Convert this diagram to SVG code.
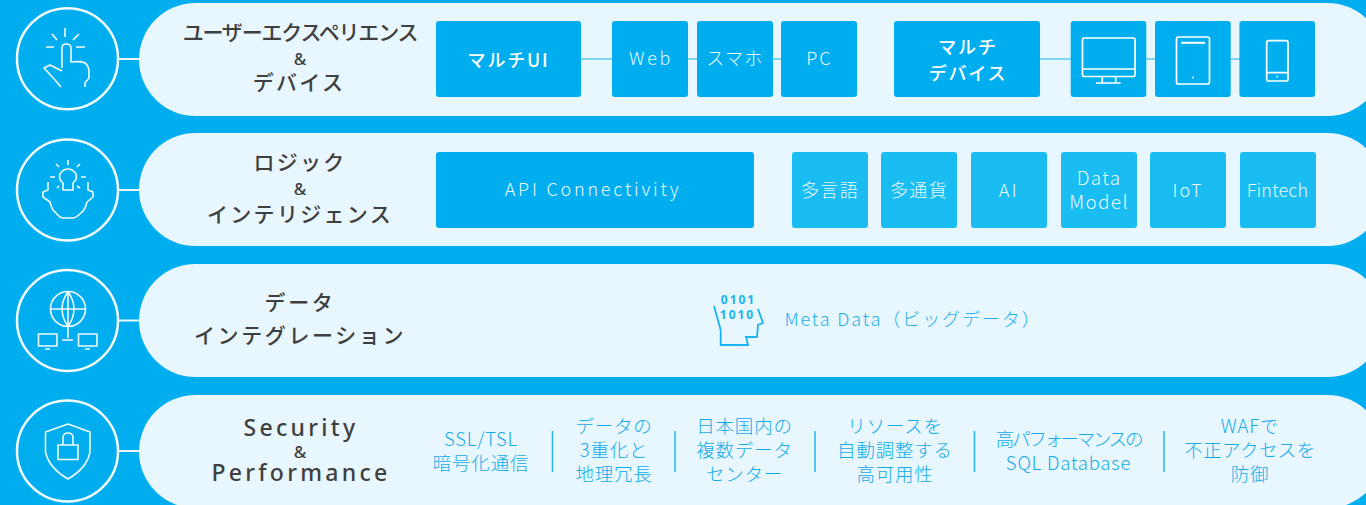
<svg xmlns="http://www.w3.org/2000/svg" width="1366" height="505" viewBox="0 0 1366 505">
<style>
text{font-family:"Noto Sans CJK JP","Noto Sans",sans-serif;text-anchor:middle}
.pill{fill:#e8f6fe}
.ring{fill:#00aeef;stroke:#f2fbff;stroke-width:2.5}
.ic{fill:none;stroke:#eef9ff;stroke-width:1.6;stroke-linecap:butt;stroke-linejoin:round}
.icb{fill:none;stroke:#ffffff;stroke-width:1.7}
.con{stroke:#e8f6fe;stroke-width:2;fill:none}
.lk{stroke:#5ccbf2;stroke-width:1.6;fill:none}
.box{fill:#00aeef}
.box2{fill:#19bdf2}
.h{font-size:21px;font-weight:500;fill:#3f3f3f;letter-spacing:2.300px}
.amp{font-family:"Noto Sans",sans-serif;font-size:17px;font-weight:500;fill:#3f3f3f}
.en{font-family:"Noto Sans",sans-serif;font-size:23px;font-weight:500;fill:#3f3f3f;letter-spacing:3.300px}
.w{font-size:18px;font-weight:300;fill:#e8f8ff;letter-spacing:1.300px}
.wb{font-size:18px;font-weight:500;fill:#fff;letter-spacing:1.800px}
.b{font-size:18.500px;font-weight:300;fill:#14abe8;letter-spacing:.8px}
.bin{font-family:"Noto Sans",sans-serif;font-size:12px;font-weight:700;fill:#18b4ee;letter-spacing:2px}
.sep{stroke:#29b4ea;stroke-width:1.5}
</style>
<rect width="1366" height="505" fill="#00aeef"/>
<g id="pills">
<rect class="pill" x="139" y="3" width="1245" height="113" rx="56.500"/>
<rect class="pill" x="139" y="133" width="1245" height="113" rx="56.500"/>
<rect class="pill" x="139" y="264" width="1245" height="113" rx="56.500"/>
<rect class="pill" x="139" y="395" width="1245" height="113" rx="56.500"/>
</g>
<g id="connectors">
<path class="con" d="M119 59H140M119 190H140M119 320.500H140M119 451H140"/>
<path class="lk" d="M581 59H612M688 59H697M773 59H781M1040 59H1071M1146 59H1155M1231 59H1240"/>
</g>
<g id="row1">
<text class="h" x="300" y="40" style="letter-spacing:-1.200px">ユーザーエクスペリエンス</text>
<text class="amp" x="300" y="65">&amp;</text>
<text class="h" x="299" y="90">デバイス</text>
</g>
<g id="icon1">
<circle class="ring" cx="67.500" cy="58.700" r="50.500"/>
<path class="ic" d="M65 28V37M52 34L57 40M79 34L73 40M46 47H54M76 47H85M62 68V48Q62 44 66.500 44Q71 44 71 48V62Q81 61 85 63Q89 66 89 72V78L85 83V87M62 71L50 65L44 68L55 80L61 87"/>
</g>
<g id="n-multiui"><rect class="box" x="436" y="21" width="145" height="76" rx="3"/><text class="wb" x="508.500" y="67">マルチUI</text></g>
<g id="n-web"><rect class="box" x="612" y="21" width="76" height="76" rx="3"/><text class="w" x="651" y="65" style="letter-spacing:2.600px">Web</text></g>
<g id="n-sumaho"><rect class="box" x="697" y="21" width="76" height="76" rx="3"/><text class="w" x="735" y="65">スマホ</text></g>
<g id="n-pc"><rect class="box" x="781" y="21" width="76" height="76" rx="3"/><text class="w" x="819.500" y="65" style="letter-spacing:2px">PC</text></g>
<g id="n-multidev"><rect class="box" x="894" y="21" width="146" height="76" rx="3"/><text class="wb" x="968" y="54">マルチ</text><text class="wb" x="968" y="80">デバイス</text></g>
<g id="n-desktop"><rect class="box" x="1070.700" y="21" width="75.600" height="76" rx="3"/><rect class="icb" x="1082.500" y="38" width="52.500" height="38.500" rx="1.500"/><path class="icb" d="M1082.500 69H1135M1102.300 77V83M1115.700 77V83M1096 83H1120.700"/></g>
<g id="n-tablet"><rect class="box" x="1155" y="21" width="75.700" height="76" rx="3"/><rect class="icb" x="1176.500" y="37" width="33" height="47" rx="2"/><path class="icb" d="M1181 42.800H1205" style="stroke-width:2"/><path class="icb" d="M1192 77.500H1194"/></g>
<g id="n-phone"><rect class="box" x="1239.400" y="21" width="75.600" height="76" rx="3"/><rect class="icb" x="1266.700" y="40.700" width="21.300" height="40.300" rx="2"/><path class="icb" d="M1266.700 72.700H1288M1276.500 76.500H1278"/></g>

<g id="row2">
<text class="h" x="300" y="170">ロジック</text>
<text class="amp" x="300" y="195">&amp;</text>
<text class="h" x="300" y="222">インテリジェンス</text>
</g>
<g id="icon2">
<circle class="ring" cx="67.500" cy="190" r="50.500"/>
<path class="ic" d="M68 160V165M56 164L59 167M80 164L77 167M50 177H55M81 177H86M57 188L59 186M80 188L77 186M63 190V183Q58 179 60 174Q63 169 68 169Q73 169 76 174Q78 179 73 183V190ZM48 182V190L43 192V197L50 202Q52 210 55 212Q60 218 63 218H73Q76 218 82 212Q85 210 87 202L93 197V192L88 190V182"/>
</g>
<g id="n-api"><rect class="box" x="436" y="152" width="318" height="76" rx="3"/><text class="w" x="593" y="196" style="letter-spacing:2.800px">API Connectivity</text></g>
<g id="n-lang"><rect class="box2" x="792" y="152" width="76" height="76" rx="3"/><text class="w" x="830" y="197">多言語</text></g>
<g id="n-curr"><rect class="box2" x="881" y="152" width="76" height="76" rx="3"/><text class="w" x="919" y="197">多通貨</text></g>
<g id="n-ai"><rect class="box2" x="971" y="152" width="76" height="76" rx="3"/><text class="w" x="1009" y="197" style="letter-spacing:2.500px">AI</text></g>
<g id="n-dm"><rect class="box2" x="1061" y="152" width="76" height="76" rx="3"/><text class="w" x="1099" y="185" style="font-size:19px">Data</text><text class="w" x="1099" y="209" style="font-size:19px">Model</text></g>
<g id="n-iot"><rect class="box2" x="1150" y="152" width="76" height="76" rx="3"/><text class="w" x="1188" y="197" style="letter-spacing:2px">IoT</text></g>
<g id="n-fin"><rect class="box2" x="1240" y="152" width="76" height="76" rx="3"/><text class="w" x="1277.500" y="197" style="letter-spacing:.2px">Fintech</text></g>

<g id="row3">
<text class="h" x="300" y="310" style="letter-spacing:2.600px">データ</text>
<text class="h" x="300" y="343" style="letter-spacing:2.600px">インテグレーション</text>
<text x="913" y="326" style="font-size:18px;font-weight:300;fill:#1fb0ea;letter-spacing:1.900px">Meta Data（ビッグデータ）</text>
<path d="M714 306L720.700 330V345H748L746 337H757L758 325L763 323L758 309" fill="none" stroke="#18b4ee" stroke-width="1.800"/>
<text class="bin" x="738.500" y="304">0101</text>
<text class="bin" x="737.500" y="319">1010</text>
</g>
<g id="icon3">
<circle class="ring" cx="67.500" cy="320.500" r="50.500"/>
<path class="ic" d="M50.500 309A17.500 17.500 0 1 0 85.500 309A17.500 17.500 0 1 0 50.500 309M50.500 309H85.500M68 291.500V338M68 291.500Q56 309 68 326.500Q80 309 68 291.500M62 340H73"/>
<rect class="ic" x="38.500" y="334" width="18.500" height="12"/><rect class="ic" x="78.500" y="334" width="18.500" height="12"/>
<path class="ic" d="M45 349H50M85 349H90"/>
</g>

<g id="row4">
<text class="en" x="301" y="436">Security</text>
<text class="amp" x="300" y="458">&amp;</text>
<text class="en" x="301" y="481">Performance</text>
</g>
<g id="icon4">
<circle class="ring" cx="67.500" cy="451" r="50.500"/>
<path class="ic" d="M68 424L90 432V452Q87 468 68 479Q49 468 45.500 452V432Z"/>
<rect class="ic" x="58" y="445" width="20" height="14.500"/>
<path class="ic" d="M63 445V438Q63 433 68 433Q73 433 73 438V445"/>
</g>
<g id="f1"><text class="b" x="481" y="446">SSL/TSL</text><text class="b" x="481" y="470">暗号化通信</text></g>
<line class="sep" x1="552.500" y1="431" x2="552.500" y2="472"/>
<g id="f2"><text class="b" x="614" y="433">データの</text><text class="b" x="614" y="457">3重化と</text><text class="b" x="614" y="481">地理冗長</text></g>
<line class="sep" x1="675" y1="431" x2="675" y2="472"/>
<g id="f3"><text class="b" x="744.500" y="433">日本国内の</text><text class="b" x="744.500" y="457">複数データ</text><text class="b" x="744.500" y="481">センター</text></g>
<line class="sep" x1="815" y1="431" x2="815" y2="472"/>
<g id="f4"><text class="b" x="895" y="433">リソースを</text><text class="b" x="895" y="457">自動調整する</text><text class="b" x="895" y="481">高可用性</text></g>
<line class="sep" x1="974.500" y1="431" x2="974.500" y2="472"/>
<g id="f5"><text class="b" x="1068.500" y="446" style="letter-spacing:-2.300px">高パフォーマンスの</text><text class="b" x="1068.500" y="470">SQL Database</text></g>
<line class="sep" x1="1164" y1="431" x2="1164" y2="472"/>
<g id="f6"><text class="b" x="1250" y="433">WAFで</text><text class="b" x="1250" y="457" style="letter-spacing:.4px">不正アクセスを</text><text class="b" x="1250" y="481">防御</text></g>
</svg>
